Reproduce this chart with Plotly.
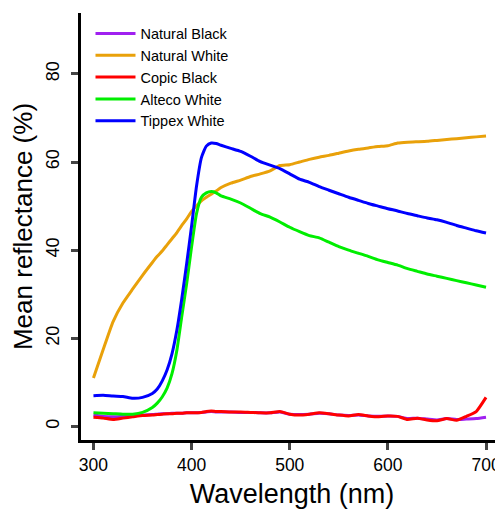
import plotly.graph_objects as go

wavelength = [300, 310, 320, 330, 340, 350, 360, 365, 370, 375, 380, 385, 390, 395,
              400, 405, 410, 415, 420, 425, 430, 440, 450, 460, 470, 480, 490, 500,
              510, 520, 530, 540, 550, 560, 570, 580, 590, 600, 610, 620, 630, 640,
              650, 660, 670, 680, 690, 700]

natural_black = [2.6, 2.3, 2.2, 2.3, 2.4, 2.6, 2.7, 2.8, 2.9, 2.9, 3.0, 3.0, 3.0, 3.1,
                 3.1, 3.1, 3.2, 3.3, 3.4, 3.3, 3.3, 3.3, 3.2, 3.2, 3.1, 3.1, 3.3, 2.8,
                 2.7, 2.8, 3.0, 2.9, 2.6, 2.5, 2.6, 2.4, 2.3, 2.4, 2.3, 1.8, 1.9, 1.7,
                 1.5, 1.8, 1.6, 1.7, 1.8, 2.1]

natural_white = [11.0, 17.5, 23.8, 28.0, 31.2, 34.3, 37.2, 38.6, 39.8, 41.2, 42.6, 44.0,
                 45.6, 47.1, 48.8, 50.1, 51.2, 52.0, 52.7, 53.4, 54.2, 55.2, 55.9, 56.7,
                 57.3, 58.0, 59.2, 59.4, 60.0, 60.6, 61.1, 61.5, 62.0, 62.5, 62.9, 63.2,
                 63.5, 63.7, 64.3, 64.5, 64.6, 64.7, 64.9, 65.1, 65.3, 65.5, 65.7, 65.9]

copic_black = [2.1, 1.9, 1.6, 1.9, 2.2, 2.5, 2.6, 2.7, 2.8, 2.9, 2.9, 3.0, 3.0, 3.1,
               3.1, 3.1, 3.2, 3.4, 3.5, 3.4, 3.4, 3.3, 3.3, 3.2, 3.1, 3.1, 3.4, 2.8,
               2.6, 2.8, 3.1, 2.9, 2.6, 2.4, 2.7, 2.4, 2.2, 2.4, 2.3, 1.6, 1.9, 1.5,
               1.3, 1.8, 1.4, 2.3, 3.4, 6.6]

alteco_white = [3.1, 3.0, 2.9, 2.8, 2.8, 3.2, 4.3, 5.3, 6.7, 8.7, 12.0, 17.3, 25.0, 32.5,
                40.8, 48.3, 52.0, 53.0, 53.3, 53.0, 52.3, 51.6, 50.7, 49.5, 48.3, 47.5,
                46.4, 45.2, 44.2, 43.3, 42.8, 41.8, 40.8, 40.0, 39.3, 38.6, 37.8, 37.2,
                36.6, 35.8, 35.2, 34.6, 34.1, 33.6, 33.1, 32.6, 32.1, 31.6]

tippex_white = [7.0, 7.1, 6.9, 6.8, 6.4, 6.6, 7.5, 8.5, 10.3, 12.8, 16.5, 21.9, 29.0, 37.0,
                45.5, 54.5, 61.0, 63.6, 64.3, 64.2, 63.8, 63.1, 62.4, 61.3, 60.1, 59.3,
                58.5, 57.3, 56.1, 55.4, 54.4, 53.6, 52.8, 52.0, 51.3, 50.6, 50.0, 49.4,
                48.9, 48.3, 47.8, 47.3, 46.9, 46.3, 45.6, 45.0, 44.4, 43.9]

series_names = ["Natural Black", "Natural White", "Copic Black", "Alteco White", "Tippex White"]
series_values = [natural_black, natural_white, copic_black, alteco_white, tippex_white]
series_colors = ["#A020F0", "#E9A10A", "#FF0000", "#00EE00", "#0000FF"]

y_ticks = [0, 20, 40, 60, 80]
x_ticks = [300, 400, 500, 600, 700]

FONT = "Liberation Sans, Arial, Helvetica, sans-serif"

fig = go.Figure()
for name, vals, col in zip(series_names, series_values, series_colors):
    fig.add_trace(go.Scatter(x=wavelength, y=vals, mode="lines", name=name,
                             line=dict(color=col, width=3, shape="spline", smoothing=0.5)))

# page body has an 8px margin; figure sized to fill the remaining window
fig.update_layout(
    width=495, height=501,
    margin=dict(l=72.5, r=0, t=5, b=69),
    paper_bgcolor="white", plot_bgcolor="white",
    font=dict(family=FONT, color="black"),
    showlegend=True,
    legend=dict(x=0.0225, y=0.9895, xanchor="left", yanchor="top",
                bgcolor="rgba(0,0,0,0)", borderwidth=0,
                font=dict(size=14.5, family=FONT, color="black"),
                itemwidth=40),
)
fig.update_xaxes(range=[287.3, 717.3], tickvals=x_ticks, ticks="outside", ticklen=7,
                 tickwidth=2.5, showline=True, linewidth=3, linecolor="black",
                 showgrid=False, zeroline=False,
                 tickfont=dict(size=17.5, family=FONT, color="black"),
                 title=dict(text="Wavelength (nm)", font=dict(size=27, family=FONT), standoff=16))
fig.update_yaxes(range=[-3.06, 93.8], tickvals=y_ticks, ticks="outside", ticklen=7,
                 tickwidth=2.5, showline=True, linewidth=3, linecolor="black",
                 showgrid=False, zeroline=False, tickangle=-90, ticklabelstandoff=5,
                 tickfont=dict(size=18, family=FONT, color="black"),
                 title=dict(text="Mean reflectance (%)", font=dict(size=26, family=FONT), standoff=5))

fig.write_html("out.html")
